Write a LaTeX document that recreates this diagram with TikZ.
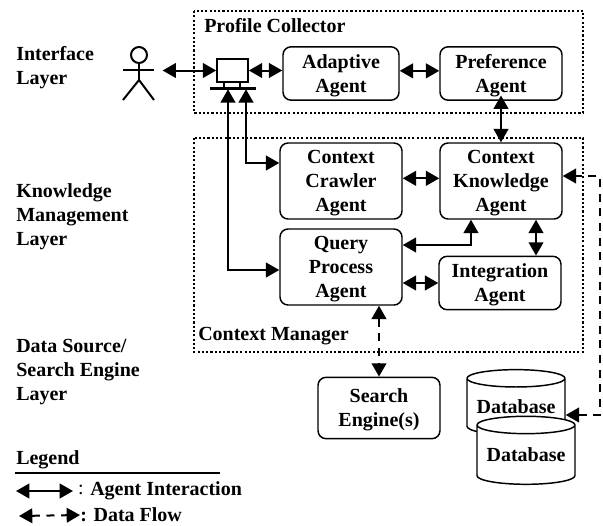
\documentclass[tikz,border=0pt]{standalone}
\usepackage{fontspec}
\setmainfont{Liberation Serif}
\usetikzlibrary{arrows.meta, shapes.geometric}
\tikzset{
  boldtext/.style = {font = \fontsize{15}{18}\selectfont\bfseries},
  layerlabel/.style = {boldtext, align = left, anchor = west, inner sep = 0},
  agent/.style = {boldtext, draw, line width = 1.1pt, rounded corners = 6pt, align = center, inner sep = 0, text depth = 0pt, minimum width = 91.5pt},
  database/.style = {boldtext, draw, fill = white, line width = 1.1pt, cylinder, shape border rotate = 90, aspect = 0.22, inner sep = 0, minimum width = 73.5pt},
  group/.style = {draw, line width = 1.6pt, dash pattern = on 1.6pt off 1.6pt},
  agentlink/.style = {line width = 1.5pt, {Triangle[length = 10pt, width = 11pt]}-{Triangle[length = 10pt, width = 11pt]}},
  dataflow/.style = {agentlink, dash pattern = on 6pt off 5pt},
  stick/.style = {line width = 1.5pt}
}
\begin{document}
\begin{tikzpicture}[x = 0.75pt, y = -0.75pt]
      \useasboundingbox (0, 0) rectangle (603, 525);
      \draw [group] (194, 11) rectangle (583, 113);
      \draw [group] (194, 138) rectangle (583, 352);
      \node [boldtext, anchor = west, inner sep = 0] (profile) at (204, 26) {Profile Collector};
      \node [boldtext, anchor = west, inner sep = 0] (manager) at (198, 336) {Context Manager};
      \node [layerlabel] (interface) at (16, 68) {Interface\\Layer};
      \node [layerlabel] (knowledgelayer) at (16, 217) {Knowledge\\Management\\Layer};
      \node [layerlabel] (datalayer) at (16, 372) {Data Source/\\Search Engine\\Layer};
      \node [agent, minimum width = 87pt, minimum height = 40pt] (adaptive) at (341, 73.5) {Adaptive\\Agent};
      \node [agent, minimum height = 40pt] (preference) at (501, 73.5) {Preference\\Agent};
      \node [agent, minimum height = 57pt] (crawler) at (341, 181) {Context\\Crawler\\Agent};
      \node [agent, minimum height = 57pt] (knowledge) at (501, 181) {Context\\Knowledge\\Agent};
      \node [agent, minimum height = 57pt] (query) at (341, 267) {Query\\Process\\Agent};
      \node [agent, minimum height = 40pt] (integration) at (500, 283) {Integration\\Agent};
      \node [agent, minimum height = 46pt] (search) at (379, 408) {Search\\Engine(s)};
      \node [database, minimum height = 49pt] (dbback) at (516, 407) {Database};
      \node [database, minimum height = 51pt] (dbfront) at (526, 455) {Database};
      \draw [stick] (139, 55) circle [radius = 8];
      \draw [stick] (139, 63) -- (139, 80);
      \draw [stick] (123, 70) -- (154, 70);
      \draw [stick] (123, 100) -- (139, 80) -- (154, 100);
      \node [inner sep = 0, minimum width = 23pt, minimum height = 40pt] (user) at (139, 74) {};
      \node [draw, line width = 1.5pt, inner sep = 0, minimum width = 23pt, minimum height = 17pt] (screen) at (232.5, 70.5) {};
      \node [draw, fill, inner sep = 0, minimum width = 34pt, minimum height = 1.5pt] (pcbase) at (232.5, 88) {};
      \draw [line width = 1pt] (224, 82) -- (224, 87) (240, 82) -- (240, 87);
      \coordinate (turnquery) at (228, 270);
      \coordinate (turncrawler) at (246, 163);
      \coordinate (turnanswer) at (471, 245);
      \coordinate (turnside) at (536, 236);
      \coordinate (turntop) at (600, 176);
      \coordinate (turnbottom) at (600, 415);
      \draw [agentlink, shorten <= 6pt] (user.east |- screen.west) -- (screen.west);
      \draw [agentlink] (screen.east) -- (adaptive.west |- screen.east);
      \draw [agentlink] ([yshift = 2pt] adaptive.east) -- ([yshift = 2pt] preference.west);
      \draw [agentlink] ([yshift = 4pt] preference.south) -- (knowledge.north);
      \draw [agentlink] (pcbase.south -| turnquery) -- (turnquery) -- (query.west |- turnquery);
      \draw [agentlink] (pcbase.south -| turncrawler) -- (turncrawler) -- (crawler.west |- turncrawler);
      \draw [agentlink] ([yshift = 2pt] crawler.east) -- ([yshift = 2pt] knowledge.west);
      \draw [agentlink] (query.east |- turnanswer) -- (turnanswer) -- (knowledge.south -| turnanswer);
      \draw [agentlink] (knowledge.south -| turnside) -- (integration.north -| turnside);
      \draw [agentlink] (query.east |- integration.west) -- (integration.west);
      \draw [dataflow] (query.south -| search.north) -- (search.north);
      \draw [dataflow] (dbback.east |- turnbottom) -- (turnbottom) -- (turntop) -- (knowledge.east |- turntop);
      \node [boldtext, anchor = west, inner sep = 0] (legend) at (16, 460) {Legend};
      \coordinate (legendleft) at (15, 473);
      \coordinate (legendright) at (220, 473);
      \draw [line width = 1pt] (legendleft) -- (legendright);
      \node [boldtext, anchor = west, inner sep = 0] (interaction) at (90, 491) {Agent Interaction};
      \node [anchor = east, inner sep = 0, font = \fontsize{15}{18}\selectfont] (colonone) at (84, 490) {:};
      \node [boldtext, anchor = west, inner sep = 0] (flow) at (80, 515) {: Data Flow};
      \coordinate (interactionleft) at (16, 491);
      \coordinate (interactionright) at (73, 491);
      \coordinate (flowleft) at (19, 516);
      \draw [agentlink] (interactionleft) -- (interactionright);
      \draw [dataflow] (flowleft) -- (flow.west);
\end{tikzpicture}
\end{document}
